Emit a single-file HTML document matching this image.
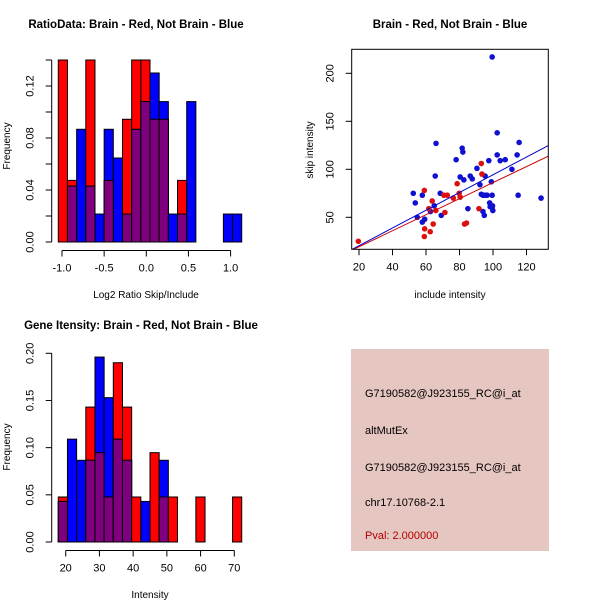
<!DOCTYPE html>
<html><head><meta charset="utf-8"><style>
html,body{margin:0;padding:0;background:#fff;}
svg{display:block;font-family:"Liberation Sans",Arial,sans-serif;}
</style></head><body>
<svg id="c" width="600" height="600" viewBox="0 0 600 600">
<rect x="0" y="0" width="600" height="600" fill="#fff"/>
<g id="info">
<rect x="351" y="349" width="198" height="202" fill="#E6C6C0"/>
<text x="365" y="397" font-size="11" fill="#000">G7190582@J923155_RC@i_at</text>
<text x="365" y="434" font-size="11" fill="#000">altMutEx</text>
<text x="365" y="471" font-size="11" fill="#000">G7190582@J923155_RC@i_at</text>
<text x="365" y="506" font-size="11" fill="#000">chr17.10768-2.1</text>
<text x="365" y="539" font-size="11" fill="#B00000">Pval: 2.000000</text>
</g>
</svg>
<script>
// ---- data: ratio histogram ----
const ratioStart = -1.044;
const ratioBinWidth = 0.1088;
const ratioRed  = [0.14,0.0474,0,0.14,0,0.0474,0,0.0944,0.14,0.14,0.0944,0.0944,0,0.0474,0,0,0,0,0,0];
const ratioBlue = [0,0.043,0.0867,0.043,0.0215,0.0867,0.0646,0.0215,0.0867,0.108,0.13,0.108,0.0215,0.0215,0.108,0,0,0,0.0215,0.0215];
const ratioYTicks = [0,0.02,0.04,0.06,0.08,0.10,0.12,0.14];
const ratioYLabels = ["0.00","","0.04","","0.08","","0.12",""];
const ratioXTicks = [-1,-0.5,0,0.5,1];
const ratioXLabels = ["-1.0","-0.5","0.0","0.5","1.0"];
// ---- data: intensity histogram ----
const intStart = 17.8;
const intBinWidth = 2.72;
const intRed  = [0.0477,0,0,0.143,0.0947,0.0477,0.19,0.143,0.0477,0,0.0947,0.0477,0.0477,0,0,0.0477,0,0,0,0.0477];
const intBlue = [0.043,0.109,0.0866,0.0866,0.196,0.153,0.109,0.0866,0,0.043,0,0.0866,0,0,0,0,0,0,0,0];
const intYTicks = [0,0.05,0.10,0.15,0.20];
const intYLabels = ["0.00","0.05","0.10","0.15","0.20"];
const intXTicks = [20,30,40,50,60,70];
// ---- data: scatter ----
const blueX = [99.5,102.5,115.6,66,81.6,82,78,97.5,102.5,104.3,107.3,114.4,111.3,90.4,80.4,82.6,86.4,87.6,95.3,99,92.2,65.5,52.4,53.6,57.8,54.8,57.8,59.2,62.7,64.9,68.5,69.1,85,93,94,95.3,96.5,99.5,98,98.3,99.5,99.9,94,94.8,115,128.7,99.7];
const blueY = [217,138,128,127,122,118,110,109,115,109,110,115,100,101,92,89,93,90,93,87,84,93,75,65,73,50,45,48,56,62,75,52,59,74,73,73,73,73,65,61,60,57,56,52,73,70,62];
const redX = [19.6,59,63.7,61.7,65.9,71.3,64.3,59.2,62.5,59,70.7,72.7,76.3,78.6,79.8,80.4,83,84.2,91.6,93,93.4];
const redY = [25,78,67,59,57,55,43,38,35,30,73,73,70,85,75,71,43,44,59,106,95];
const blueFit = [1.9,0.924];
const redFit = [2.6,0.835];
const scXTicks = [20,40,60,80,100,120];
const scYTicks = [50,100,150,200];

const NS="http://www.w3.org/2000/svg";
const svg=document.getElementById('c');
function mk(tag,attrs,parent){const e=document.createElementNS(NS,tag);for(const k in attrs)e.setAttribute(k,attrs[k]);(parent||svg).appendChild(e);return e;}
function txt(x,y,s,opts,parent){const t=mk('text',Object.assign({x:x,y:y,'font-size':11,'text-anchor':'middle',fill:'#000'},opts||{}),parent);t.textContent=s;return t;}

function histogram(cfg){
  const g=mk('g',{});
  
  
  const X=v=>cfg.x0px+(v-cfg.x0v)*cfg.xs;
  const Y=v=>cfg.y0px-v*cfg.ys;
  for(let i=0;i<cfg.red.length;i++){
    const a=X(cfg.start+i*cfg.bw), b=X(cfg.start+(i+1)*cfg.bw);
    const r=cfg.red[i], u=cfg.blue[i], m=Math.min(r,u);
    if(r>0){const e=mk('rect',{x:a,y:Y(r),width:b-a,height:Y(0)-Y(r),fill:'#FF0000',stroke:'#000','stroke-width':1},g);
      }
    if(u>0){const e=mk('rect',{x:a,y:Y(u),width:b-a,height:Y(0)-Y(u),fill:'#0000FF',stroke:'#000','stroke-width':1},g);
      }
    if(m>0){const e=mk('rect',{x:a,y:Y(m),width:b-a,height:Y(0)-Y(m),fill:'#7F007F',stroke:'#000','stroke-width':1},g);
      }
  }
  const yt=cfg.yTicks;
  const ya=mk('g',{},g);
  mk('line',{x1:cfg.yAxisX,x2:cfg.yAxisX,y1:Y(yt[0]),y2:Y(yt[yt.length-1]),stroke:'#000'},ya);
  const lx=cfg.yAxisX-18;
  yt.forEach((v,i)=>{mk('line',{x1:cfg.yAxisX-6,x2:cfg.yAxisX,y1:Y(v),y2:Y(v),stroke:'#000'},ya);
    if(cfg.yLabels[i]){txt(lx,Y(v),cfg.yLabels[i],{transform:`rotate(-90 ${lx} ${Y(v)})`},ya);}});
  const xa=mk('g',{},g);
  const xt=cfg.xTicks;
  mk('line',{x1:X(xt[0]),x2:X(xt[xt.length-1]),y1:cfg.xAxisY,y2:cfg.xAxisY,stroke:'#000'},xa);
  xt.forEach((v,i)=>{mk('line',{x1:X(v),x2:X(v),y1:cfg.xAxisY,y2:cfg.xAxisY+6,stroke:'#000'},xa);
    txt(X(v),cfg.xAxisY+21,cfg.xLabels[i],{},xa);});
  const t1=txt(cfg.titleX,cfg.titleY,cfg.title,{'font-weight':'bold','font-size':11.5},g);
  
  const t2=txt(cfg.xlabX,cfg.xlabY,cfg.xlab,{'font-size':10},g);
  
  const t3=txt(10,cfg.ylabY,'Frequency',{'font-size':10,transform:`rotate(-90 10 ${cfg.ylabY})`},g);
  
}

histogram({name:'ratio-histogram',red:ratioRed,blue:ratioBlue,start:ratioStart,bw:ratioBinWidth,
  x0v:0,x0px:146.3,xs:84.3,y0px:242,ys:1300,yAxisX:51.7,xAxisY:250.5,
  yTicks:ratioYTicks,yLabels:ratioYLabels,xTicks:ratioXTicks,xLabels:ratioXLabels,
  title:'RatioData: Brain - Red, Not Brain - Blue',titleX:136,titleY:28,
  xlab:'Log2 Ratio Skip/Include',xlabX:146,xlabY:298,ylabY:146});
histogram({name:'intensity-histogram',red:intRed,blue:intBlue,start:intStart,bw:intBinWidth,
  x0v:20,x0px:65.7,xs:3.372,y0px:542,ys:943.5,yAxisX:51.7,xAxisY:550.5,
  yTicks:intYTicks,yLabels:intYLabels,xTicks:intXTicks,xLabels:intXTicks.map(String),
  title:'Gene Itensity: Brain - Red, Not Brain - Blue',titleX:141,titleY:329,
  xlab:'Intensity',xlabX:150,xlabY:598,ylabY:447});

(function(){
  const g=mk('g',{});
  
  
  const L=351.7,R=548.3,T=49.3,B=249.3;
  const X=v=>359+(v-20)*(33.5/20);
  const Y=v=>217.3-(v-50)*(48/50);
  mk('defs',{},g).innerHTML='<clipPath id="sc"><rect x="351.7" y="49.3" width="196.6" height="200"/></clipPath>';
  blueX.forEach((x,i)=>{const c=mk('circle',{cx:X(x),cy:Y(blueY[i]),r:2.8,fill:'#1010D0'},g);
    });
  redX.forEach((x,i)=>{const c=mk('circle',{cx:X(x),cy:Y(redY[i]),r:2.8,fill:'#DD1010'},g);
    });
  const xa=10,xb=140;
  const bl=mk('line',{x1:X(xa),y1:Y(blueFit[0]+blueFit[1]*xa),x2:X(xb),y2:Y(blueFit[0]+blueFit[1]*xb),stroke:'#0000CC','stroke-width':1,'clip-path':'url(#sc)'},g);
  
  const rl=mk('line',{x1:X(xa),y1:Y(redFit[0]+redFit[1]*xa),x2:X(xb),y2:Y(redFit[0]+redFit[1]*xb),stroke:'#CC0000','stroke-width':1,'clip-path':'url(#sc)'},g);
  
  const box=mk('rect',{x:L,y:T,width:R-L,height:B-T,fill:'none',stroke:'#000'},g);
  
  const xg=mk('g',{},g);
  scXTicks.forEach(v=>{mk('line',{x1:X(v),x2:X(v),y1:B,y2:B+6,stroke:'#000'},xg);txt(X(v),B+21,String(v),{},xg);});
  const yg=mk('g',{},g);
  const lx=L-18;
  scYTicks.forEach(v=>{mk('line',{x1:L-6,x2:L,y1:Y(v),y2:Y(v),stroke:'#000'},yg);
    txt(lx,Y(v),String(v),{transform:`rotate(-90 ${lx} ${Y(v)})`},yg);});
  const t1=txt(450,28,'Brain - Red, Not Brain - Blue',{'font-weight':'bold','font-size':11.5},g);
  
  const t2=txt(450,298,'include intensity',{'font-size':10},g);
  
  const t3=txt(313,150,'skip intensity',{'font-size':10,transform:'rotate(-90 313 150)'},g);
  
})();
svg.appendChild(document.getElementById('info'));
</script>
</body></html>
